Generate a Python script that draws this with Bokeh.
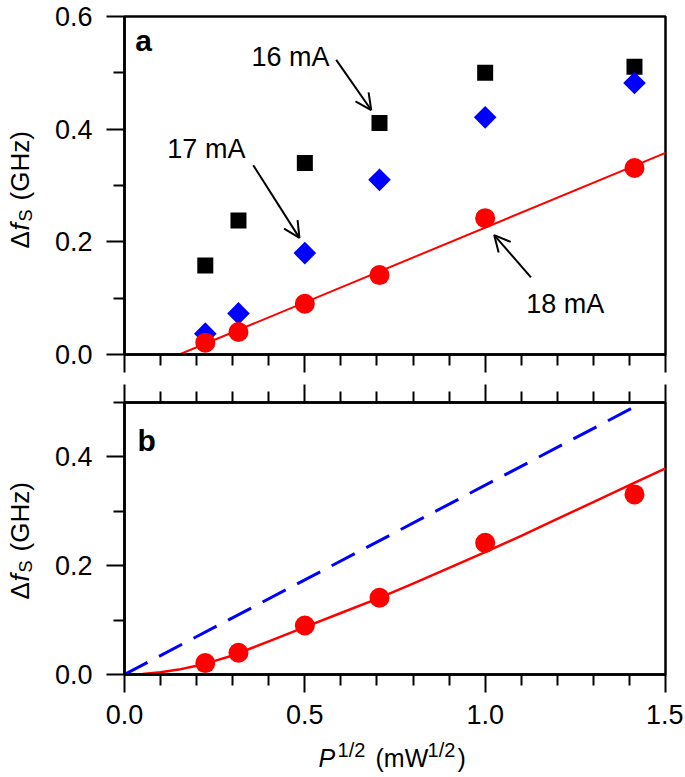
import numpy as np
from bokeh.plotting import figure
from bokeh.layouts import column, row
from bokeh.models import (Range1d, FixedTicker, Label, Arrow, OpenHead,
                          PrintfTickFormatter, CustomJSTickFormatter, LinearAxis)
from bokeh.embed import file_html
from bokeh.resources import INLINE

# ---------------- data ----------------
x_pts = [0.224, 0.316, 0.5, 0.707, 1.0, 1.414]
y_16mA = [0.158, 0.238, 0.34, 0.411, 0.50, 0.511]
y_17mA = [0.037, 0.073, 0.18, 0.31, 0.421, 0.482]
y_18mA = [0.021, 0.04, 0.09, 0.141, 0.242, 0.331]

fit_a_x = [0.152, 1.5]
fit_a_y = [0.0, 0.358]

dash_b_x = [0.0, 1.437]
dash_b_y = [0.0, 0.5]

curve_b_x = [0, 0.05, 0.1, 0.15, 0.2, 0.25, 0.3, 0.4, 0.5, 0.6, 0.7, 0.8,
             0.9, 1.0, 1.1, 1.2, 1.3, 1.4, 1.5]
curve_b_y = [0, 0.001, 0.004, 0.009, 0.016, 0.025, 0.035, 0.061, 0.087, 0.113,
             0.139, 0.167, 0.196, 0.225, 0.255, 0.286, 0.317, 0.348, 0.379]

x_major = [0.0, 0.5, 1.0, 1.5]
x_minor = [0.1, 0.2, 0.3, 0.4, 0.6, 0.7, 0.8, 0.9, 1.1, 1.2, 1.3, 1.4]
ya_major = [0.0, 0.2, 0.4, 0.6]
ya_minor = [0.1, 0.3, 0.5]
yb_major = [0.0, 0.2, 0.4]
yb_minor = [0.1, 0.3, 0.5]

FONT = "Liberation Sans"
BLACK = "black"
RED = "#ff0000"
BLUE = "#0000ff"

# layout geometry (pixels)
STRIP_W = 40
LEFT = 84
RIGHT = 18
MAIN_W = LEFT + 541 + RIGHT
FULL_W = STRIP_W + MAIN_W
TOP_A = 16
FRAME_A = 338
GAP_A = 24
GAP_B = 24
FRAME_B = 272
BOTTOM_B = 64
TITLE_H = 36

x_range = Range1d(0, 1.5)


def blank(p):
    p.outline_line_color = None
    p.grid.visible = False
    p.axis.visible = False
    p.background_fill_color = "white"
    p.border_fill_color = "white"


def style(p, major, minor):
    p.outline_line_color = BLACK
    p.outline_line_width = 2.5
    p.grid.visible = False
    p.background_fill_color = "white"
    p.border_fill_color = "white"
    for ax in p.yaxis:
        ax.ticker = FixedTicker(ticks=major, minor_ticks=minor)
        ax.major_label_standoff = 14
    for ax in p.xaxis:
        ax.ticker = FixedTicker(ticks=x_major, minor_ticks=x_minor)
        ax.major_label_standoff = 12
    for ax in p.axis:
        ax.formatter = PrintfTickFormatter(format="%.1f")
        ax.major_label_text_font = FONT
        ax.major_label_text_font_size = "27px"
        ax.major_label_text_color = BLACK
        ax.axis_line_width = 2.5
        ax.axis_line_color = BLACK
        ax.major_tick_out = 18
        ax.major_tick_in = 0
        ax.minor_tick_out = 11
        ax.minor_tick_in = 0
        ax.major_tick_line_width = 2
        ax.minor_tick_line_width = 2
        ax.major_tick_line_color = BLACK
        ax.minor_tick_line_color = BLACK
        ax.axis_label = None


def ticks_only(ax):
    ax.formatter = CustomJSTickFormatter(code="return ''")
    ax.major_label_text_font_size = "1px"
    ax.major_label_standoff = 0


def ylabel_strip(height, top, bottom, y_range, y0):
    s = figure(width=STRIP_W, height=height, x_range=Range1d(0, STRIP_W),
               y_range=y_range, output_backend="svg", toolbar_location=None,
               min_border=0, min_border_top=top, min_border_bottom=bottom,
               min_border_left=0, min_border_right=0)
    blank(s)
    common = dict(x=19, y=y0, angle=np.pi / 2, text_align="left",
                  text_baseline="middle", text_font=FONT, text_color=BLACK)
    s.add_layout(Label(text="Δ", y_offset=0, text_font_size="26px", **common))
    s.add_layout(Label(text="f", y_offset=18, text_font_size="26px",
                       text_font_style="italic", **common))
    s.add_layout(Label(text="S", x_offset=6, y_offset=27, text_font_size="18px", **common))
    s.add_layout(Label(text="(GHz)", y_offset=48, text_font_size="26px", **common))
    return s


# ---------------- panel a ----------------
ya_range = Range1d(0, 0.6)
p1 = figure(width=MAIN_W, height=TOP_A + FRAME_A + GAP_A, x_range=x_range,
            y_range=ya_range, output_backend="svg", toolbar_location=None,
            min_border=0, min_border_left=LEFT, min_border_right=RIGHT,
            min_border_top=TOP_A, min_border_bottom=GAP_A)
style(p1, ya_major, ya_minor)
ticks_only(p1.xaxis[0])

p1.line(fit_a_x, fit_a_y, line_color=RED, line_width=2)
p1.scatter(x_pts, y_16mA, marker="square", size=16, fill_color=BLACK, line_color=None)
p1.scatter(x_pts, y_17mA, marker="square", size=16, angle=np.pi / 4,
           fill_color=BLUE, line_color=None)
p1.scatter(x_pts, y_18mA, marker="circle", size=20, fill_color=RED, line_color=None)

lab = dict(text_font=FONT, text_font_size="27px", text_color=BLACK,
           text_align="center", text_baseline="middle")
p1.add_layout(Label(x=0.46, y=0.528, text="16 mA", **lab))
p1.add_layout(Label(x=0.227, y=0.365, text="17 mA", **lab))
p1.add_layout(Label(x=1.222, y=0.089, text="18 mA", **lab))

for xs, ys, xe, ye in [(0.587, 0.523, 0.684, 0.434),
                       (0.357, 0.336, 0.485, 0.207),
                       (1.127, 0.137, 1.025, 0.212)]:
    p1.add_layout(Arrow(end=OpenHead(size=16, line_width=2, line_color=BLACK),
                        x_start=xs, y_start=ys, x_end=xe, y_end=ye,
                        line_width=2, line_color=BLACK))

p1.add_layout(Label(x=0.03, y=0.558, text="a", text_font=FONT, text_font_size="30px",
                    text_font_style="bold", text_color=BLACK,
                    text_align="left", text_baseline="middle"))

sa = ylabel_strip(TOP_A + FRAME_A + GAP_A, TOP_A, GAP_A, ya_range, (354 - 248) / 563.3)

# ---------------- panel b ----------------
yb_range = Range1d(0, 0.5)
p2 = figure(width=MAIN_W, height=GAP_B + FRAME_B + BOTTOM_B, x_range=x_range,
            y_range=yb_range, output_backend="svg", toolbar_location=None,
            min_border=0, min_border_left=LEFT, min_border_right=RIGHT,
            min_border_top=GAP_B, min_border_bottom=BOTTOM_B)
p2.add_layout(LinearAxis(), "above")
style(p2, yb_major, yb_minor)
ticks_only(p2.above[0])

p2.line(dash_b_x, dash_b_y, line_color=BLUE, line_width=3, line_dash="26 13")
p2.line(curve_b_x, curve_b_y, line_color=RED, line_width=2.5)
p2.scatter(x_pts, y_18mA, marker="circle", size=20, fill_color=RED, line_color=None)

p2.add_layout(Label(x=0.036, y=0.43, text="b", text_font=FONT, text_font_size="30px",
                    text_font_style="bold", text_color=BLACK,
                    text_align="left", text_baseline="middle"))

sb = ylabel_strip(GAP_B + FRAME_B + BOTTOM_B, GAP_B, BOTTOM_B, yb_range,
                  (674 - 599) / 544)

# ---------------- x-axis title strip ----------------
t = figure(width=FULL_W, height=TITLE_H, x_range=x_range, y_range=Range1d(0, TITLE_H),
           output_backend="svg", toolbar_location=None,
           min_border=0, min_border_left=STRIP_W + LEFT, min_border_right=RIGHT,
           min_border_top=0, min_border_bottom=0)
blank(t)
xt = dict(x=0.538, y=17, text_font=FONT, text_color=BLACK,
          text_align="left", text_baseline="alphabetic")
t.add_layout(Label(text="P", x_offset=0, text_font_size="25px",
                   text_font_style="italic", **xt))
t.add_layout(Label(text="1/2", x_offset=19, y_offset=8, text_font_size="20px", **xt))
t.add_layout(Label(text="(mW", x_offset=57, text_font_size="25px", **xt))
t.add_layout(Label(text="1/2", x_offset=109, y_offset=8, text_font_size="20px", **xt))
t.add_layout(Label(text=")", x_offset=139, text_font_size="25px", **xt))

layout = column(row(sa, p1, spacing=0), row(sb, p2, spacing=0), t, spacing=0)
open("out.html", "w").write(file_html(layout, INLINE))
